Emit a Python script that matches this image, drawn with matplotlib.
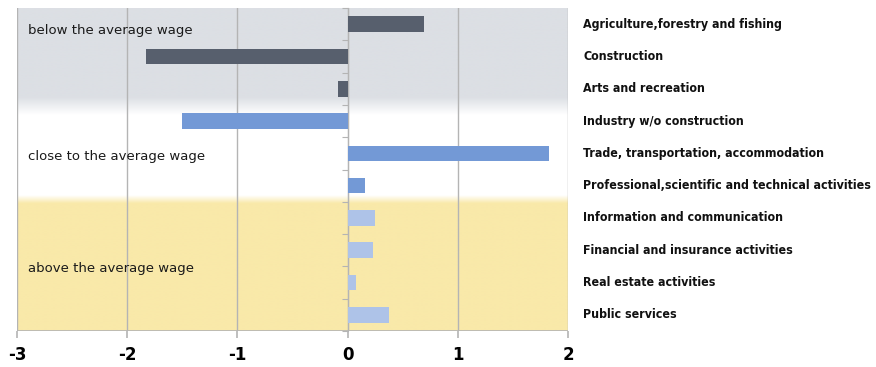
import numpy as np
import matplotlib.pyplot as plt
from matplotlib.colors import to_rgb

# sectors, top to bottom
sectors = [
    "Agriculture,forestry and fishing",
    "Construction",
    "Arts and recreation",
    "Industry w/o construction",
    "Trade, transportation, accommodation",
    "Professional,scientific and technical activities",
    "Information and communication",
    "Financial and insurance activities",
    "Real estate activities",
    "Public services",
]
values = [0.69, -1.83, -0.09, -1.50, 1.83, 0.16, 0.25, 0.23, 0.08, 0.38]
groups = ["below", "below", "below", "close", "close", "close",
          "above", "above", "above", "above"]

group_colors = {"below": "#575f6d", "close": "#7399d6", "above": "#aec3e8"}
band_labels = [("below the average wage", 0.2),
               ("close to the average wage", 4.1),
               ("above the average wage", 7.55)]

fig = plt.figure(figsize=(8.76, 3.67), dpi=100)
ax = fig.add_axes([17 / 876, 1 - 331 / 367, (568 - 17) / 876, (331 - 8) / 367])

n = len(sectors)
y = np.arange(n)

# background bands with soft transitions between them
gray = np.array(to_rgb("#dcdfe4"))
white = np.array([1.0, 1.0, 1.0])
yellow = np.array(to_rgb("#f9e9a9"))
rows = 400
ys = np.linspace(-0.5, n - 0.5, rows)
img = np.zeros((rows, 1, 3))
for i, yy in enumerate(ys):
    if yy < 2.25:
        c = gray
    elif yy < 2.8:
        t = (yy - 2.25) / 0.55
        c = gray * (1 - t) + white * t
    elif yy < 5.3:
        c = white
    elif yy < 5.55:
        t = (yy - 5.3) / 0.25
        c = white * (1 - t) + yellow * t
    else:
        c = yellow
    img[i, 0] = c
ax.imshow(img, extent=[-3, 2, n - 0.5, -0.5], aspect="auto", zorder=0,
          interpolation="bilinear")

ax.barh(y, values, height=0.48, color=[group_colors[g] for g in groups], zorder=3)

ax.set_xlim(-3, 2)
ax.set_ylim(n - 0.5, -0.5)
ax.set_xticks([-3, -2, -1, 0, 1, 2])
ax.set_xticklabels(["-3", "-2", "-1", "0", "1", "2"], fontsize=12, fontweight="bold")
ax.grid(axis="x", color="#b4b4b4", linewidth=1, zorder=1)
ax.tick_params(axis="x", length=5, color="#b4b4b4", width=1.2, pad=6)

# vertical axis sits at zero with small marks between categories
for s in ["top", "right", "bottom"]:
    ax.spines[s].set_visible(False)
ax.spines["left"].set_position(("data", 0))
ax.spines["left"].set_color("#b4b4b4")
ax.spines["left"].set_zorder(2)
ax.set_yticks(np.arange(n + 1) - 0.5)
ax.set_yticklabels([])
ax.tick_params(axis="y", length=4, color="#b4b4b4")
ax.axhline(n - 0.5, color="#b4b4b4", linewidth=1.2, zorder=2)

for i, name in enumerate(sectors):
    ax.text(583 / 876, 1 - (8 + (i + 0.5) * 32.3) / 367, name,
            transform=fig.transFigure, fontsize=8.9, fontweight="bold",
            fontstretch="condensed", family="DejaVu Sans",
            va="center", ha="left", color="#111111")

for label, yy in band_labels:
    ax.text(-2.9, yy, label, fontsize=9.5, color="#1a1a1a", va="center",
            ha="left", zorder=4)

fig.savefig("out.png", dpi=100)
